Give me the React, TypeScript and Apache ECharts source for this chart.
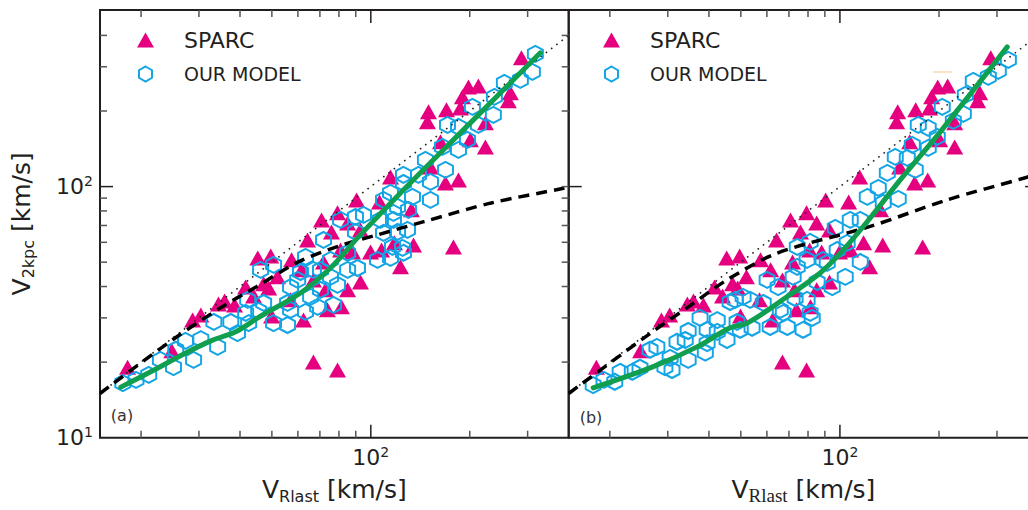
import React, { useEffect, useRef } from "react";
import * as echarts from "echarts";

// ---- data (km/s) ----
const SPARC: [number, number][] = [
  [18.2, 19.1], [24.8, 22.2], [28.7, 29.4], [30.4, 30.8], [34.4, 34.1], [35.9, 35.0],
  [38.5, 33.8], [41.6, 39.8], [44.0, 36.7], [47.2, 41.0], [48.9, 39.5], [45.3, 52.0],
  [49.6, 52.9], [52.0, 43.7], [49.9, 30.5], [57.4, 51.1], [61.6, 46.6], [57.0, 35.4],
  [64.2, 61.3], [66.9, 42.5], [71.8, 50.1], [70.8, 73.7], [75.9, 66.0], [79.2, 78.6],
  [85.0, 71.7], [90.5, 88.5], [106.3, 86.9], [114.8, 109.3], [118.0, 59.7], [107.8, 55.9],
  [73.8, 32.3], [81.4, 33.2], [85.0, 38.8], [72.8, 38.8], [62.4, 29.4], [66.9, 20.0],
  [79.2, 18.6], [123.1, 47.9], [99.8, 54.9], [88.0, 54.9], [80.9, 55.9], [93.0, 41.7],
  [93.0, 67.2], [134.9, 58.6], [178.4, 57.5], [132.9, 80.8], [168.7, 103.4], [184.8, 106.3],
  [151.9, 119.8], [200.9, 153.5], [223.2, 143.9], [162.9, 150.7], [223.2, 179.4], [149.8, 198.5],
  [169.9, 202.1], [148.7, 181.1], [187.3, 205.8], [190.0, 227.8], [198.2, 249.5], [212.5, 251.8],
  [265.9, 236.2], [262.1, 219.5], [287.2, 325.6],
];

const MODEL_A: [number, number][] = [
  [17.6, 16.5], [19.3, 17.0], [21.1, 17.8], [22.9, 20.4], [25.1, 19.1], [25.5, 22.4],
  [27.3, 24.3], [28.9, 20.4], [30.4, 24.7], [33.3, 28.9], [34.2, 23.0], [37.5, 28.9],
  [39.3, 26.1], [41.6, 31.4], [42.5, 28.6], [42.2, 35.4], [45.6, 32.0], [47.2, 34.4],
  [50.6, 28.6], [55.8, 28.1], [55.8, 34.4], [46.2, 46.6], [50.6, 48.8], [57.0, 39.8],
  [61.1, 45.7], [63.3, 52.5], [65.6, 36.4], [70.3, 46.6], [75.4, 43.7], [79.2, 40.6],
  [68.9, 33.2], [77.0, 33.8], [63.3, 31.7], [85.0, 46.6], [91.1, 47.4], [104.8, 51.1],
  [114.8, 52.0], [125.7, 54.5], [85.0, 54.5], [71.8, 61.3], [80.9, 73.7], [89.8, 75.7],
  [95.0, 77.2], [107.0, 73.7], [117.2, 73.7], [120.6, 83.0], [114.8, 94.4], [125.7, 103.4],
  [120.6, 66.0], [129.3, 67.2], [89.8, 66.0], [116.4, 57.5], [124.9, 57.0], [109.3, 65.4],
  [117.2, 78.6], [130.2, 80.8], [109.3, 88.5], [133.9, 91.0], [151.9, 88.5], [125.7, 111.3],
  [139.6, 111.3], [151.9, 104.4], [146.6, 127.8], [168.7, 116.5], [165.2, 143.9], [184.8, 140.1],
  [196.8, 153.5], [184.8, 172.9], [171.1, 176.1], [212.5, 176.1], [203.8, 207.7], [236.0, 193.1],
  [237.7, 227.8], [254.9, 258.8], [285.1, 266.1], [310.1, 286.4], [316.7, 337.9], [66.9, 46.6],
  [75.4, 51.1], [70.3, 38.8], [59.9, 42.5], [57.0, 32.3],
];

const MODEL_B: [number, number][] = [
  [17.8, 16.2], [19.2, 17.0], [20.7, 16.7], [21.5, 18.3], [23.4, 18.3], [24.7, 19.0],
  [26.5, 22.4], [27.8, 23.0], [29.4, 19.1], [30.9, 18.6], [30.5, 20.8], [32.0, 24.1],
  [33.9, 24.5], [34.6, 20.4], [34.6, 26.6], [39.0, 21.8], [39.5, 23.8], [39.5, 26.9],
  [42.4, 29.4], [42.4, 26.4], [45.4, 24.5], [37.6, 30.0], [49.8, 26.9], [48.7, 28.9],
  [54.1, 27.4], [48.1, 35.4], [53.4, 35.4], [58.5, 34.4], [61.4, 27.6], [69.2, 27.6],
  [65.9, 32.3], [64.9, 39.8], [73.1, 36.0], [77.3, 26.9], [82.4, 30.0], [79.5, 35.4],
  [85.3, 41.7], [94.8, 39.8], [91.5, 49.7], [103.8, 43.7], [115.3, 50.1], [50.8, 36.4],
  [60.1, 42.5], [72.1, 43.7], [74.2, 47.9], [81.2, 31.4], [67.3, 31.4], [88.9, 51.1],
  [79.5, 51.1], [74.2, 57.5], [81.2, 60.2], [98.1, 55.9], [105.2, 59.7], [96.8, 68.5],
  [107.5, 73.7], [115.3, 73.7], [121.1, 91.0], [130.8, 98.8], [135.4, 86.1], [150.4, 89.3],
  [139.3, 113.4], [147.3, 131.3], [160.2, 130.1], [169.4, 116.5], [165.9, 146.6], [185.5, 142.6],
  [173.0, 176.1], [185.5, 171.3], [197.6, 157.8], [204.6, 207.7], [221.0, 182.7], [237.1, 194.9],
  [240.4, 231.9], [254.2, 263.7], [282.4, 273.5], [302.8, 289.1], [324.9, 319.8], [46.4, 34.7],
];

const GREEN_A: [number, number][] = [
  [17.35, 15.9], [21.4, 18.3], [27.0, 21.55], [32.6, 24.3], [38.8, 26.4], [46.2, 30.5],
  [61.1, 37.7], [75.4, 47.4], [91.1, 62.5], [123.1, 94.4], [200.9, 179.4], [328, 341],
];
const GREEN_B: [number, number][] = [
  [17.8, 15.8], [27.1, 19.2], [36.8, 23.0], [46.4, 27.4], [52.3, 28.6], [68.2, 36.0],
  [87.1, 45.3], [102.3, 55.9], [123.6, 75.0], [152.5, 106.3], [201.8, 165.2], [322.4, 360],
];
const DASH_A: [number, number][] = [
  [15, 15], [25, 24.6], [35, 33], [45, 40], [60, 50], [80, 58], [105, 64.3],
  [145, 72.5], [231, 85.9], [386, 98.5], [400, 99.7],
];
const DASH_B: [number, number][] = [
  [15, 15], [26.5, 26], [35, 33.5], [45.4, 42.5], [64.4, 54.3], [123.6, 69.4],
  [211.5, 88.5], [361, 108], [400, 112.6],
];
const ONE_TO_ONE: [number, number][] = [[15, 15], [400, 400]];

const X_MIN = 15, X_MAX = 400, Y_MIN = 10, Y_MAX = 505;
const X_MINOR = [20, 30, 40, 50, 60, 70, 80, 90, 200, 300];
const X_MAJOR = [100];
const Y_MINOR = [20, 30, 40, 50, 60, 70, 80, 90, 200, 300, 400];
const Y_MAJOR = [100];

const FONT = "'DejaVu Sans', sans-serif";
const MAGENTA = "#e4007f";
const CYAN = "#13a5e6";
const GREEN = "#0f9f4e";
const HEX = "path://M0,-1L0.866,-0.5L0.866,0.5L0,1L-0.866,0.5L-0.866,-0.5Z";

function tickData(panel: number) {
  const out: number[][] = [];
  const MIN = 7, MAJ = 13;
  X_MINOR.forEach((v) => { out.push([v, Y_MIN, 0, MIN]); out.push([v, Y_MAX, 1, MIN]); });
  X_MAJOR.forEach((v) => { out.push([v, Y_MIN, 0, MAJ]); out.push([v, Y_MAX, 1, MAJ]); });
  if (panel === 0) {
    Y_MINOR.forEach((v) => { out.push([X_MIN, v, 2, MIN]); out.push([X_MAX, v, 3, MIN]); });
    Y_MAJOR.forEach((v) => { out.push([X_MIN, v, 2, MAJ]); out.push([X_MAX, v, 3, MIN]); });
  } else {
    Y_MAJOR.forEach((v) => { out.push([X_MIN, v, 2, MAJ]); out.push([X_MAX, v, 3, MAJ]); });
    Y_MINOR.forEach((v) => { out.push([X_MAX, v, 3, MIN]); });
  }
  return out;
}

const powLabel = (v: number) => {
  const e = Math.log10(v);
  if (Math.abs(e - Math.round(e)) > 1e-6) return "";
  return `{b|10}{s|${Math.round(e)}}`;
};
const labelRich = {
  b: { fontSize: 22, fontFamily: FONT, color: "#231f20", lineHeight: 26 },
  s: { fontSize: 14, fontFamily: FONT, color: "#231f20", lineHeight: 14, verticalAlign: "top" },
};
const nameRich = (serifSub: boolean) => ({
  v: { fontSize: 25, fontFamily: FONT, color: "#231f20", lineHeight: 30 },
  sub: {
    fontSize: serifSub ? 19 : 16,
    fontFamily: serifSub ? "'Liberation Serif', serif" : FONT,
    color: "#231f20", lineHeight: 12, verticalAlign: "bottom",
  },
});

export default function App() {
  const ref = useRef<HTMLDivElement>(null);
  useEffect(() => {
    if (!ref.current) return;
    const chart = echarts.init(ref.current, undefined, { renderer: "svg" });

    const panelSeries = (i: number, model: [number, number][], green: [number, number][], dash: [number, number][]) => [
      {
        name: "SPARC", type: "scatter", xAxisIndex: i, yAxisIndex: i, data: SPARC,
        symbol: "triangle", symbolSize: [17, 15], itemStyle: { color: MAGENTA, opacity: 1 }, z: 2,
      },
      {
        name: "OUR MODEL", type: "scatter", xAxisIndex: i, yAxisIndex: i, data: model,
        symbol: HEX, symbolSize: [15, 16], symbolKeepAspect: false,
        itemStyle: { color: "rgba(0,0,0,0)", borderColor: CYAN, borderWidth: 2, opacity: 1 }, z: 3,
      },
      {
        type: "line", xAxisIndex: i, yAxisIndex: i, data: ONE_TO_ONE, showSymbol: false, silent: true,
        lineStyle: { color: "#222", width: 1.6, type: [1.6, 5] }, z: 4,
      },
      {
        type: "line", xAxisIndex: i, yAxisIndex: i, data: dash, showSymbol: false, silent: true, smooth: 0.3,
        lineStyle: { color: "#000", width: 3.5, type: [11, 7] }, z: 5,
      },
      {
        type: "line", xAxisIndex: i, yAxisIndex: i, data: green, showSymbol: false, silent: true, smooth: 0.35,
        lineStyle: { color: GREEN, width: 5, cap: "round" }, z: 6,
      },
      {
        type: "custom", xAxisIndex: i, yAxisIndex: i, data: tickData(i), silent: true, clip: false, z: 7,
        renderItem: (_p: any, api: any) => {
          const pt = api.coord([api.value(0), api.value(1)]);
          const side = api.value(2), len = api.value(3);
          const d = [[0, -1], [0, 1], [1, 0], [-1, 0]][side];
          return {
            type: "line",
            shape: { x1: pt[0], y1: pt[1], x2: pt[0] + d[0] * len, y2: pt[1] + d[1] * len },
            style: { stroke: len > 10 ? "#231f20" : "#555", lineWidth: 1.5 },
          };
        },
      },
    ];

    const xAxis = (i: number) => ({
      gridIndex: i, type: "log", logBase: 10, min: X_MIN, max: X_MAX,
      axisLine: { show: false }, axisTick: { show: false }, splitLine: { show: false },
      axisLabel: { formatter: powLabel, margin: 7, rich: labelRich },
      name: "{v|V}{sub|Rlast}{v| [km/s]}",
      nameLocation: "middle", nameGap: 37,
      nameTextStyle: { rich: nameRich(i === 1) },
    });
    const yAxis = (i: number) => ({
      gridIndex: i, type: "log", logBase: 10, min: Y_MIN, max: Y_MAX,
      axisLine: { show: false }, axisTick: { show: false }, splitLine: { show: false },
      axisLabel: i === 0 ? { formatter: powLabel, margin: 7, rich: labelRich } : { show: false },
      name: i === 0 ? "{v|V}{sub|2kpc}{v| [km/s]}" : "",
      nameLocation: "middle", nameGap: 64,
      nameTextStyle: { rich: nameRich(false) },
    });
    const legend = (left: number) => ({
      orient: "vertical", left, top: 29, padding: 0, itemWidth: 17, itemHeight: 15, itemGap: 13.5,
      data: ["SPARC", "OUR MODEL"], selectedMode: false,
      formatter: (n: string) => (n === "SPARC" ? "{a|SPARC}" : "{b|OUR MODEL}"),
      textStyle: {
        rich: {
          a: { fontSize: 22, fontFamily: FONT, color: "#231f20", lineHeight: 22, padding: [0, 0, 0, 25] },
          b: { fontSize: 19, fontFamily: FONT, color: "#231f20", lineHeight: 22, padding: [0, 0, 0, 25] },
        },
      },
    });

    chart.setOption({
      animation: false,
      backgroundColor: "#ffffff",
      grid: [
        { left: 100, top: 10, width: 468.7, height: 427.7, show: true, borderColor: "#231f20", borderWidth: 2, backgroundColor: "transparent" },
        { left: 568.7, top: 10, width: 469.4, height: 427.7, show: true, borderColor: "#231f20", borderWidth: 2, backgroundColor: "transparent" },
      ],
      xAxis: [xAxis(0), xAxis(1)],
      yAxis: [yAxis(0), yAxis(1)],
      legend: [legend(137), legend(603)],
      graphic: [
        { type: "text", x: 122, y: 415, style: { text: "(a)", fontSize: 16, fontFamily: FONT, fill: "#333", align: "center", verticalAlign: "middle" } },
        { type: "text", x: 591, y: 417, style: { text: "(b)", fontSize: 16, fontFamily: FONT, fill: "#333", align: "center", verticalAlign: "middle" } },
        { type: "rect", shape: { x: 933, y: 71, width: 19, height: 2 }, style: { fill: "#fde3c5" } },
      ],
      series: [
        ...panelSeries(0, MODEL_A, GREEN_A, DASH_A),
        ...panelSeries(1, MODEL_B, GREEN_B, DASH_B),
      ],
    });
    return () => chart.dispose();
  }, []);
  return (
    <div style={{ position: "absolute", left: 0, top: 0, width: 1028, height: 510, overflow: "hidden", background: "#fff" }}>
      <div ref={ref} style={{ width: 1045, height: 510 }} />
    </div>
  );
}
